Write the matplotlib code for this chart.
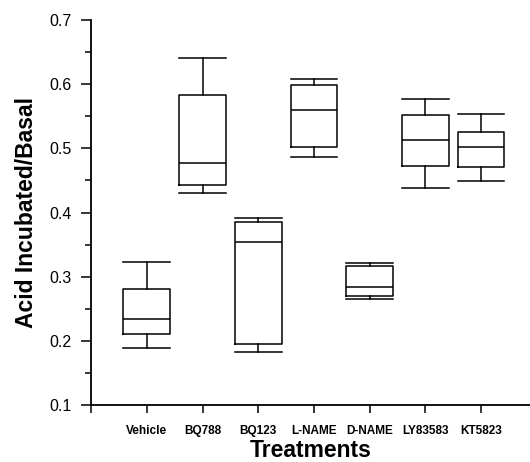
import matplotlib
matplotlib.use("Agg")
import matplotlib.pyplot as plt
from matplotlib.ticker import MultipleLocator

plt.rcParams['font.family'] = ['Liberation Sans', 'DejaVu Sans']

categories = ["Vehicle", "BQ788", "BQ123", "L-NAME", "D-NAME", "LY83583", "KT5823"]
whisker_low = [0.189, 0.430, 0.183, 0.486, 0.266, 0.438, 0.449]
q1 = [0.211, 0.443, 0.195, 0.502, 0.270, 0.472, 0.471]
median = [0.234, 0.477, 0.354, 0.559, 0.284, 0.513, 0.502]
q3 = [0.281, 0.583, 0.385, 0.598, 0.316, 0.552, 0.525]
whisker_high = [0.323, 0.640, 0.392, 0.608, 0.321, 0.577, 0.553]

stats = []
for i, c in enumerate(categories):
    stats.append(dict(label=c, whislo=whisker_low[i], q1=q1[i], med=median[i],
                      q3=q3[i], whishi=whisker_high[i], fliers=[]))

fig = plt.figure(figsize=(5.3, 4.62), dpi=100)
ax = fig.add_axes([0.172, 0.123, 0.83, 0.834])
positions = list(range(1, len(categories) + 1))
w = 0.84
lp = dict(color='black', linewidth=1.1)
ax.bxp(stats, positions=positions, widths=w, capwidths=w, showfliers=False,
       boxprops=lp, whiskerprops=lp, capprops=lp, medianprops=lp)

ax.set_xlim(0, 7.9)
ax.set_ylim(0.1, 0.7)
ax.set_xticks([0] + positions)
ax.set_xticklabels([""] + categories, fontsize=8.5, fontweight='bold')
ax.yaxis.set_major_locator(MultipleLocator(0.1))
ax.yaxis.set_minor_locator(MultipleLocator(0.05))
ax.set_yticklabels([f"{v:.1f}" for v in ax.get_yticks()], fontsize=11.5)
ax.tick_params(axis='y', which='major', direction='out', length=7, width=1.1, pad=7)
ax.tick_params(axis='y', which='minor', direction='out', length=4, width=1.1)
ax.tick_params(axis='x', direction='out', length=6, width=1.1, pad=8)
for s in ['top', 'right']:
    ax.spines[s].set_visible(False)
for s in ['left', 'bottom']:
    ax.spines[s].set_linewidth(1.3)

ax.set_ylabel("Acid Incubated/Basal", fontsize=16.5, fontweight='bold', labelpad=8)
ax.set_xlabel("Treatments", fontsize=16.5, fontweight='bold', labelpad=2)

fig.savefig("out.png", dpi=100)
